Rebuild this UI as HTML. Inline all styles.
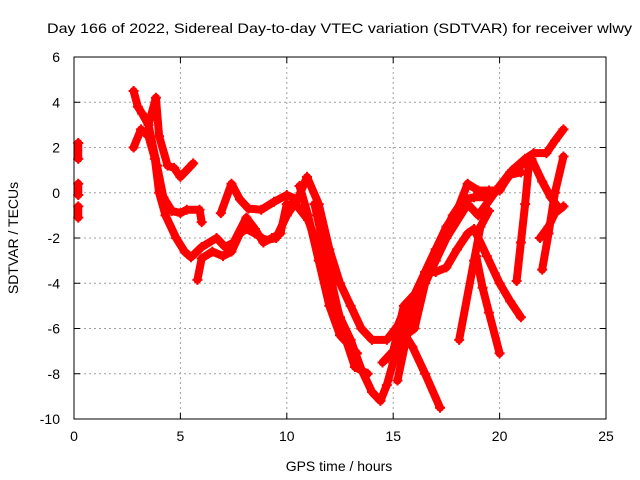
<!DOCTYPE html>
<html><head><meta charset="utf-8">
<style>
body{margin:0;background:#fff;}
svg{display:block;font-family:"Liberation Sans",sans-serif;}
</style></head>
<body>
<svg id="chart" width="640" height="480">
<text x="339.5" y="33" text-anchor="middle" font-size="14" textLength="585" lengthAdjust="spacingAndGlyphs">Day 166 of 2022, Sidereal Day-to-day VTEC variation (SDTVAR) for receiver wlwy</text>
<text x="339" y="471" text-anchor="middle" font-size="14">GPS time / hours</text>
<text transform="translate(18,238) rotate(-90)" text-anchor="middle" font-size="14">SDTVAR / TECUs</text>
<g id="grid"></g>
<g id="series"></g>
<rect x="74" y="57" width="532" height="362" fill="none" stroke="#000"/>
</svg>
<script>
const xTicks=[0,5,10,15,20,25];
const yTicks=[-10,-8,-6,-4,-2,0,2,4,6];
const traceA=[[2.8,2.0],[3.15,2.8],[3.5,2.5],[3.8,1.5],[4.0,0],[4.3,-1.0],[4.8,-2.0],[5.2,-2.6],[5.5,-2.85],[6.0,-2.4],[6.7,-2.0],[7.1,-2.4],[7.5,-2.2],[8.1,-1.1],[8.5,-1.6],[8.9,-2.2],[9.3,-2.0],[9.7,-1.8],[10.0,-0.5],[10.5,-0.6],[11,-1.2],[11.5,-2.5],[12,-4],[12.5,-5.5],[13,-6.5],[13.5,-7.8],[14,-8.8],[14.4,-9.2],[14.7,-8.5],[15,-7.5],[15.5,-6],[16,-4.8],[16.5,-3.5],[17,-2.5],[17.5,-1.5],[18,-0.8],[18.5,0.4],[19,0.1],[19.5,0.1],[20,0.1],[20.6,1.0],[21.2,1.5],[21.6,1.75],[22.2,1.75],[22.6,2.3],[23,2.8]];
const traceB=[[2.8,4.5],[3.0,3.8],[3.2,3.5],[3.5,3.0],[3.85,4.2],[4.0,2.5],[4.4,1.2],[4.7,1.1],[5.0,0.7],[5.3,1.0],[5.6,1.3]];
const traceC=[[3.5,3.0],[3.9,1.2],[4.2,-0.2],[4.6,-0.8],[5.0,-0.9],[5.3,-0.75],[5.9,-0.75],[6.0,-1.3]];
const traceD=[[5.8,-3.85],[6,-2.9],[6.5,-2.6],[7,-2.8],[7.4,-2.6],[7.8,-1.8],[8.1,-1.6],[8.5,-1.8],[9,-2.1],[9.5,-2.0],[10,-1.0],[10.5,-0.3],[10.95,0.7],[11.5,-0.5],[12,-2.5],[12.5,-4],[13,-5],[13.5,-6],[14,-6.5],[14.7,-6.5],[15.2,-5.9],[15.7,-4.8],[16.3,-4.2],[16.8,-3.0],[17.3,-2.0],[17.8,-1.0],[18.3,-0.3],[18.8,-0.2],[19.4,-0.2],[20,0.2],[20.5,0.8],[21,0.9]];
const traceE=[[10.6,0.3],[11,-1.0],[11.5,-3.0],[12,-5],[12.5,-6.3],[13.3,-7.1]];
const traceR=[[11.3,-0.5],[12,-3.5],[12.6,-6],[13.2,-7.7],[13.8,-8]];
const traceW=[[6.9,-0.9],[7.4,0.4],[7.8,-0.3],[8.2,-0.7],[8.8,-0.75],[9.4,-0.4],[10,-0.1],[10.5,-0.3]];
const traceF=[[14.5,-7.5],[15,-7],[15.5,-5],[16,-4.5],[16.5,-3.5],[17,-3.5],[17.5,-3.3],[18,-2.5],[18.5,-1.8],[18.8,-1.6],[19.4,-2.8],[20,-4],[20.5,-4.8],[21,-5.5]];
const traceQ=[[15.2,-8.3],[15.6,-6.5],[16,-5],[16.5,-3.5],[17,-2.5]];
const traceG=[[15.3,-6.5],[16,-6],[16.5,-4],[17,-3],[17.5,-2],[18.5,-0.5],[19,-1],[20,0.3],[20.5,0.9],[21,1.2],[21.5,1.5],[22,0.5],[22.4,-0.2],[22.8,-0.7]];
const traceH=[[15.5,-6.2],[15.9,-6.8],[16.5,-8],[17.2,-9.5]];
const traceI=[[18.1,-6.5],[18.8,-3],[19.1,-1.5],[19.5,-0.8]];
const traceJ=[[18.9,-2.8],[19.2,-4.2],[19.5,-5.3],[20,-7.1]];
const traceK=[[20.8,-3.9],[21.0,-2.2],[21.2,-0.5],[21.4,1.5]];
const traceL=[[22.0,-3.4],[22.3,-1.8],[22.6,0],[23,1.6]];
const traceM=[[21.9,-2],[22.3,-1.5],[22.6,-0.9],[23,-0.6]];
const traceN=[[0.2,2.2],[0.2,1.5]];
const traceO=[[0.2,0.4],[0.2,-0.1]];
const traceP=[[0.2,-0.6],[0.2,-1.1]];
const traces=[traceA,traceB,traceC,traceD,traceE,traceR,traceW,traceF,traceQ,traceG,traceH,traceI,traceJ,traceK,traceL,traceM,traceN,traceO,traceP];

const NS="http://www.w3.org/2000/svg";
const X0=74,X1=606,Y0=419,Y1=57;
function sx(v){return X0+(v-0)/(25-0)*(X1-X0);}
function sy(v){return Y0-(v+10)/(16)*(Y0-Y1);}
const grid=document.getElementById('grid');
const svg=document.getElementById('chart');
function mk(tag,attrs,parent){const e=document.createElementNS(NS,tag);for(const k in attrs)e.setAttribute(k,attrs[k]);parent.appendChild(e);return e;}
xTicks.forEach(t=>{
  const x=sx(t);
  if(t>0&&t<25){const g=mk('line',{x1:x,x2:x,y1:Y1,y2:Y0,stroke:'#a0a0a0','stroke-dasharray':'2,3'},grid);
  
  }
  mk('line',{x1:x,x2:x,y1:Y0,y2:Y0-6,stroke:'#000'},grid);
  mk('line',{x1:x,x2:x,y1:Y1,y2:Y1+6,stroke:'#000'},grid);
  const l=mk('text',{x:x,y:Y0+22,'text-anchor':'middle','font-size':14},svg);
  l.textContent=t;
  
  
});
yTicks.forEach(t=>{
  const y=sy(t);
  if(t>-10&&t<6){const g=mk('line',{x1:X0,x2:X1,y1:y,y2:y,stroke:'#a0a0a0','stroke-dasharray':'2,3'},grid);
  
  }
  mk('line',{x1:X0,x2:X0+6,y1:y,y2:y,stroke:'#000'},grid);
  mk('line',{x1:X1,x2:X1-6,y1:y,y2:y,stroke:'#000'},grid);
  const l=mk('text',{x:X0-14,y:y+5,'text-anchor':'end','font-size':14},svg);
  l.textContent=t;
  
  
});
const sg=document.getElementById('series');
traces.forEach((tr,i)=>{
  const p=mk('polyline',{points:tr.map(d=>sx(d[0])+','+sy(d[1])).join(' '),fill:'none',stroke:'#f00','stroke-width':8,'stroke-linejoin':'round','stroke-linecap':'round'},sg);
  
  
  tr.forEach(d=>{
    const x=sx(d[0]),y=sy(d[1]);
    const m=mk('path',{d:`M${x-5},${y}H${x+5}M${x},${y-5}V${y+5}`,stroke:'#f00','stroke-width':2},sg);
    
    
  });
});
</script>
</body></html>
